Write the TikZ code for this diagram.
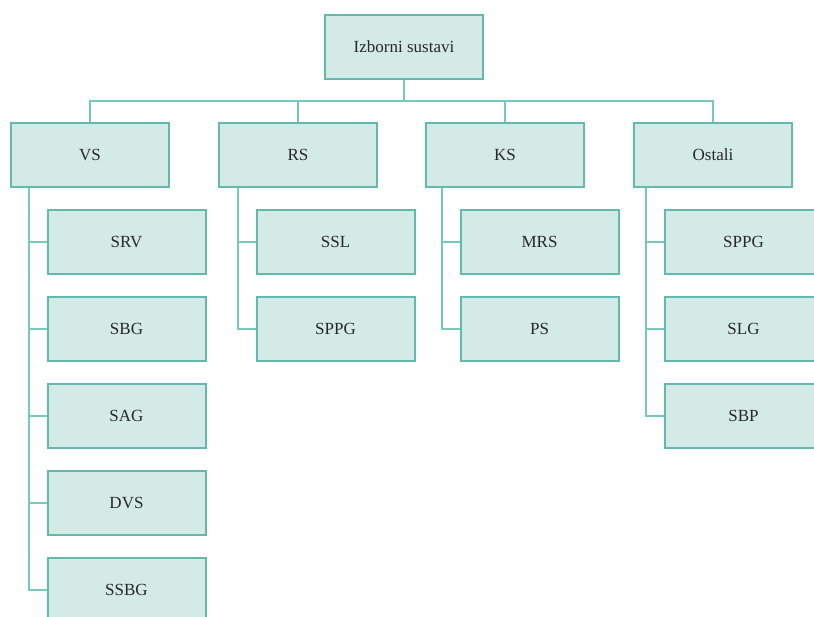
\documentclass[tikz,border=0pt]{standalone}
\usepackage{fontspec}
\setmainfont{Liberation Serif}
\definecolor{boxfill}{RGB}{212,234,231}
\definecolor{boxline}{RGB}{98,186,174}
\definecolor{connline}{RGB}{120,200,190}
\definecolor{txt}{RGB}{40,40,40}
\tikzset{
  ebox/.style={draw=boxline, line width=2pt, fill=boxfill, minimum width=158pt, minimum height=64pt, inner sep=0pt, font=\fontsize{17}{20}\selectfont, text=txt},
  conn/.style={draw=connline, line width=1.3pt}
}
\begin{document}
\begin{tikzpicture}[x=1pt,y=-1pt]
\useasboundingbox (0,0) rectangle (814,617);
\clip (0,0) rectangle (814,617);
\node[ebox] (root) at (404,47) {Izborni sustavi};
\node[ebox] (vs) at (90,155) {VS};
\node[ebox] (rs) at (298,155) {RS};
\node[ebox] (ks) at (505,155) {KS};
\node[ebox] (ost) at (713,155) {Ostali};
% VS children
\node[ebox] (srv) at (126.5,242) {SRV};
\node[ebox] (sbg) at (126.5,329) {SBG};
\node[ebox] (sag) at (126.5,416) {SAG};
\node[ebox] (dvs) at (126.5,503) {DVS};
\node[ebox] (ssbg) at (126.5,590) {SSBG};
% RS children
\node[ebox] (ssl) at (335.5,242) {SSL};
\node[ebox] (sppga) at (335.5,329) {SPPG};
% KS children
\node[ebox] (mrs) at (539.5,242) {MRS};
\node[ebox] (ps) at (539.5,329) {PS};
% Ostali children
\node[ebox] (sppgb) at (743.5,242) {SPPG};
\node[ebox] (slg) at (743.5,329) {SLG};
\node[ebox] (sbp) at (743.5,416) {SBP};
% bus
\coordinate (bus) at (404,101);
\draw[conn] (root.south) -- (bus);
\draw[conn] (vs.north) |- (bus) -| (ost.north);
\draw[conn] (rs.north) -- (rs.north |- bus);
\draw[conn] (ks.north) -- (ks.north |- bus);
% VS branch
\coordinate (vsx) at (29,188);
\draw[conn] (vsx) |- (ssbg.west);
\foreach \c in {srv,sbg,sag,dvs} \draw[conn] (vsx |- \c.west) -- (\c.west);
% RS branch
\coordinate (rsx) at (238,188);
\draw[conn] (rsx) |- (sppga.west);
\draw[conn] (rsx |- ssl.west) -- (ssl.west);
% KS branch
\coordinate (ksx) at (442,188);
\draw[conn] (ksx) |- (ps.west);
\draw[conn] (ksx |- mrs.west) -- (mrs.west);
% Ostali branch
\coordinate (osx) at (646,188);
\draw[conn] (osx) |- (sbp.west);
\foreach \c in {sppgb,slg} \draw[conn] (osx |- \c.west) -- (\c.west);
\end{tikzpicture}
\end{document}
